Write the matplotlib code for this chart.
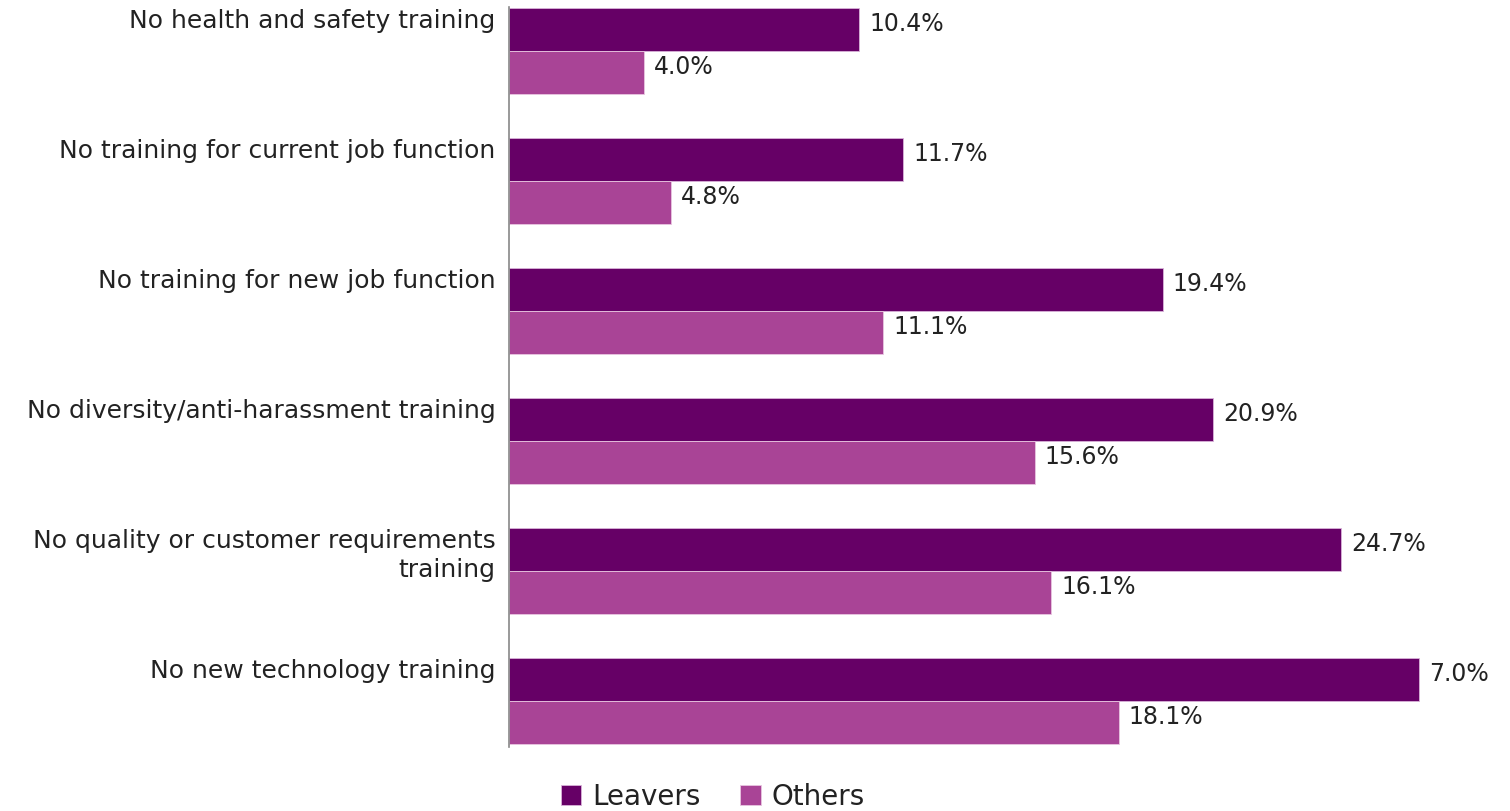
import numpy as np
import matplotlib.pyplot as plt

categories = ["No health and safety training",
              "No training for current job function",
              "No training for new job function",
              "No diversity/anti-harassment training",
              "No quality or customer requirements\ntraining",
              "No new technology training"]
leavers = [10.4, 11.7, 19.4, 20.9, 24.7, 27.0]
others = [4.0, 4.8, 11.1, 15.6, 16.1, 18.1]
leavers_labels = ["10.4%", "11.7%", "19.4%", "20.9%", "24.7%", "7.0%"]
others_labels = ["4.0%", "4.8%", "11.1%", "15.6%", "16.1%", "18.1%"]

plt.rcParams['font.family'] = ['DejaVu Sans']
txt = '#222222'

fig = plt.figure(figsize=(15.1, 8.12), dpi=100)
ax = fig.add_axes([0.3371, 0.0788, 0.647, 0.9113])

y = np.arange(len(categories))
h = 0.33
ax.barh(y - h/2, leavers, height=h, color='#660066', edgecolor='#d9b3d9', linewidth=0.6, label='Leavers')
ax.barh(y + h/2, others, height=h, color='#A94496', edgecolor='#e8c6e0', linewidth=0.6, label='Others')

for i in range(len(categories)):
    ax.text(leavers[i] + 0.3, y[i] - h/2 - 0.05, leavers_labels[i], va='center', ha='left', fontsize=17, color=txt)
    ax.text(others[i] + 0.3, y[i] + h/2 - 0.05, others_labels[i], va='center', ha='left', fontsize=17, color=txt)
    ax.text(-0.4, y[i] - h + 0.0, categories[i], va='top', ha='right', fontsize=18, color=txt,
            linespacing=1.25)

ax.set_xlim(0, 29)
ax.set_ylim(5.354, -0.338)
ax.set_xticks([])
ax.set_yticks([])
for s in ['top', 'right', 'bottom']:
    ax.spines[s].set_visible(False)
ax.spines['left'].set_color('#888888')
ax.spines['left'].set_linewidth(1.2)

fig.legend(loc='center', bbox_to_anchor=(0.472, 0.018), ncol=2, frameon=False, fontsize=20,
           handlelength=0.75, handleheight=0.75, handletextpad=0.4, columnspacing=1.4,
           labelcolor=txt)

fig.savefig('out.png', dpi=100)
